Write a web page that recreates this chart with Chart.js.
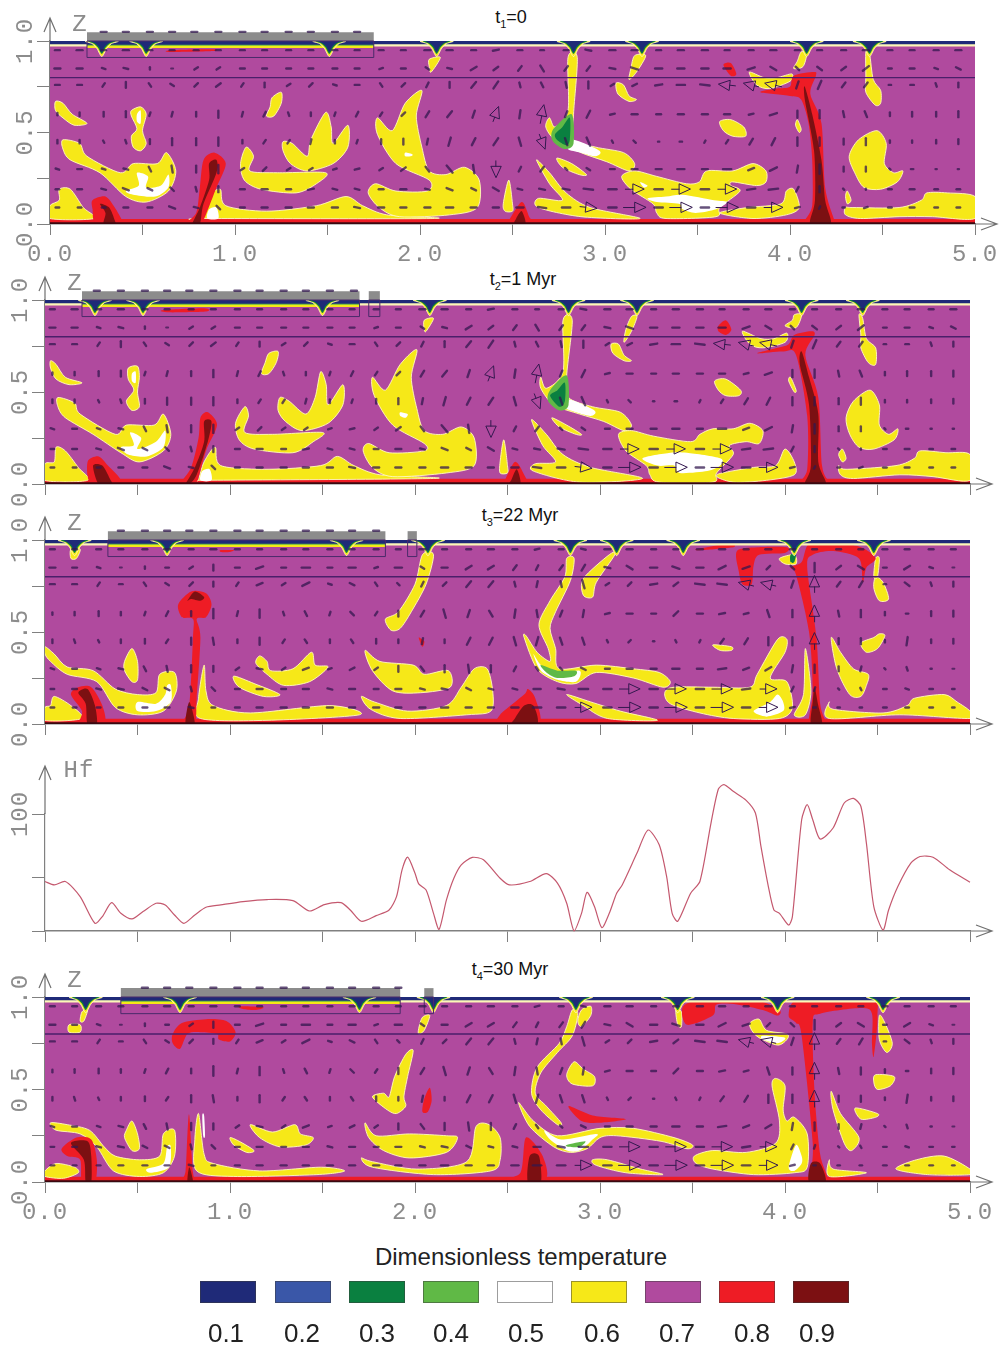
<!DOCTYPE html>
<html lang="en">
<head>
<meta charset="UTF-8">
<title>Dimensionless temperature</title>
<script src="https://cdn.jsdelivr.net/npm/chart.js@4/dist/chart.umd.min.js"></script>
<style>
    body { margin: 0; background: #fff; width: 999px; height: 1348px; position: relative; overflow: hidden; font-family: "Liberation Sans", Arial, sans-serif; }
    canvas { position: absolute; left: 0; top: 0; filter: blur(0.45px); }
    .title { position: absolute; font-size: 18px; color: #111; white-space: nowrap; transform: translateX(-50%); }
    .title sub { font-size: 11px; }
    #legendTitle { position: absolute; left: 521px; top: 1243px; transform: translateX(-50%); font-size: 24px; color: #222; white-space: nowrap; }
    .swatch { position: absolute; top: 1281px; width: 56px; height: 22px; box-sizing: border-box; border: 1px solid rgba(60,60,60,.5); }
    .swatchLabel { position: absolute; top: 1318px; font-size: 26px; color: #222; transform: translateX(-50%); }
</style>
</head>
<body>
<div class="title" style="left:511px;top:7px">t<sub>1</sub>=0</div>
<div class="title" style="left:523px;top:269px">t<sub>2</sub>=1 Myr</div>
<div class="title" style="left:520px;top:505px">t<sub>3</sub>=22 Myr</div>
<div class="title" style="left:510px;top:959px">t<sub>4</sub>=30 Myr</div>
<div id="legendTitle">Dimensionless temperature</div>

<script>
// colour scale
const legendValues = ['0.1', '0.2', '0.3', '0.4', '0.5', '0.6', '0.7', '0.8', '0.9'];
const legendColors = ['#1f2a78', '#3a57a8', '#0a8040', '#60b946', '#ffffff', '#f6e818', '#b04a9e', '#ee1c25', '#7c1012'];
const swatchLefts = [200, 275, 349, 423, 497, 571, 645, 719, 793];
const swatchLabelCentres = [226, 302, 377, 451, 526, 602, 677, 752, 817];
const [NAVY, BLUE, GREEN, LIGHTGREEN, WHITE, YELLOW, MAGENTA, RED, DARKRED] = legendColors;

// axes
const xTickValues = [0, 0.5, 1, 1.5, 2, 2.5, 3, 3.5, 4, 4.5, 5];
const xTickLabels = ['0.0', '', '1.0', '', '2.0', '', '3.0', '', '4.0', '', '5.0'];
const zTickValues = [0, 0.25, 0.5, 0.75, 1];
const zTickLabels = ['0.0', '', '0.5', '', '1.0'];
const hfTickValues = [0, 46, 100];
const hfTickLabels = ['', '', '100'];

// heat flow curve
const hfX = [0, .05, .11, .19, .27, .31, .36, .41, .47, .53, .6, .65, .7, .75, .81, .87, .95, 1.07, 1.2, 1.34, 1.43, 1.51, 1.6, 1.65, 1.71, 1.79, 1.86, 1.9, 1.93, 1.96, 2, 2.02, 2.06, 2.1, 2.13, 2.17, 2.21, 2.25, 2.31, 2.37, 2.46, 2.51, 2.62, 2.71, 2.77, 2.82, 2.86, 2.9, 2.93, 2.97, 3.01, 3.05, 3.09, 3.12, 3.2, 3.26, 3.32, 3.36, 3.39, 3.42, 3.49, 3.54, 3.6, 3.64, 3.67, 3.72, 3.79, 3.84, 3.87, 3.91, 3.94, 3.97, 4.02, 4.04, 4.09, 4.12, 4.15, 4.19, 4.26, 4.32, 4.37, 4.41, 4.44, 4.48, 4.53, 4.56, 4.61, 4.68, 4.73, 4.8, 4.89, 5];
const hfY = [42.3, 39.4, 42.3, 29.4, 6.6, 12.3, 24.3, 15.1, 10.3, 16.6, 23.7, 22.3, 13.7, 6.6, 13.7, 20.3, 22.3, 25.1, 26.9, 26, 17.1, 22.6, 24.3, 18, 8.3, 13.1, 18, 29.4, 52.3, 63.1, 49.4, 40.3, 35.1, 15.1, 1.4, 26.6, 45.1, 56.6, 62.9, 60.9, 45.1, 39.4, 42.3, 49.1, 40.9, 23.7, 0, 15.1, 33.1, 20.9, 2.9, 15.1, 32.3, 39.4, 66.6, 86.3, 73.7, 46.6, 15.1, 8.3, 32.3, 42.3, 92.3, 121.4, 125.1, 119.4, 111.7, 100.9, 72.3, 38, 18, 15.1, 5.1, 12.3, 95.1, 108, 95.1, 78.6, 88, 109.4, 113.4, 106.6, 75.1, 20.9, 0.9, 18, 38, 58, 63.7, 63.1, 52.3, 41.7];

// velocity arrows: u, v in hundredths of a model unit
const arrowCols = [.16, .41, .66, .91, 1.16, 1.41, 1.66, 1.91, 2.16, 2.41, 2.66, 2.91, 3.16, 3.41, 3.66, 3.91, 4.16, 4.41, 4.66, 4.91];
const midCols = [.04, .29, .54, .79, 1.04, 1.29, 1.54, 1.79, 2.04, 2.29, 2.54, 2.79, 3.04, 3.29, 3.54, 3.79, 4.04, 4.29, 4.54, 4.79];
const arrowRows = [.95, .85, .76, .6, .45, .3, .19, .09];
const earlyU = [
    [-5, -5, -4, -4, -4, -4, -4, -4, -5, 5, -3, 5, -5, -5, -4, -5, -4, -5, -4, -5],
    [-5, -4, 0, 3, -4, -4, -4, -4, 4, 4, 3, -3, -6, -6, -6, 5, 4, 5, -4, -4],
    [-4, 0, -3, 4, 0, -3, -4, 3, 0, 4, -2, 0, 4, 7, -9, -9, 3, -3, -3, 0],
    [0, 0, -1, 0, -2, 0, -2, 3, 4, 3, 2, -3, -5, -5, -5, -6, 0, 2, 0, 0],
    [0, 1, 0, 0, -2, 1, -1, 0, 2, 4, 3, 3, 2, -2, 2, 3, 0, 0, 0, 0],
    [4, 4, 1, 0, 3, 3, 4, 4, 5, 0, -3, 3, 5, 6, 7, 6, 0, 0, 2, 1],
    [4, 5, 3, 0, 5, 5, 4, 5, 5, 5, 5, 8, 10, 10, 10, 8, 0, 0, 4, 3],
    [3, 4, 5, 3, 5, 5, 5, 5, 6, 5, 7, 9, 12, 12, 12, 10, 1, -3, -4, -3]
];
const earlyV = [
    [0, 0, 0, 0, 0, 0, 0, 0, 0, 1, 0, -1, 0, 0, 0, 0, 0, 0, 0, 0],
    [0, 1, 0, 2, 0, 0, 0, 0, -1, 3, -5, -4, 2, 0, 0, -3, -3, 4, 0, 2],
    [0, -5, 2, 3, -4, -3, 0, 3, 5, 6, 4, 6, 2, 0, 1, 2, 7, -4, 0, 4],
    [-3, -5, -4, -6, -4, -3, -4, 3, 5, 8, 10, -6, 0, 0, 0, -2, 7, -5, -4, -5],
    [-3, -3, -6, -7, -3, 4, -3, 5, 7, 6, -8, -7, -2, 0, 3, 6, 7, -6, -2, -4],
    [0, -1, -6, -7, 3, 2, 1, 3, -6, -9, -4, -2, 0, 0, 0, 3, 8, -4, 0, 0],
    [0, -2, -3, -5, 0, 1, -1, 0, -2, -3, -1, -1, 0, 0, 0, 1, 5, -1, 0, 0],
    [0, 0, -2, -3, 0, 0, -1, 0, 0, 0, -1, -1, 0, 0, 0, 0, 2, -1, 0, 0]
];
const lateU = [
    [-4, -4, -5, -5, -4, -4, -4, -4, -4, -5, 4, 4, -5, -4, -5, 5, -4, -4, -4, -4],
    [-4, 0, -3, 0, 6, 7, 6, 6, 5, 5, -2, -3, -5, -6, -6, -3, 0, 5, 5, 0],
    [-4, -3, -3, 0, -5, -6, -4, -2, 3, 4, 1, -2, -3, 4, -8, -8, 0, -3, -4, 0],
    [0, 0, 2, 0, 0, 2, 3, 0, -2, 3, -1, -1, -5, 4, -5, -2, 0, 0, 2, 0],
    [1, 0, 2, 1, 0, 2, -2, 0, 0, 3, 2, 2, -2, 1, 3, 0, 0, 0, -1, 0],
    [4, 4, 1, 0, 5, 5, 4, 0, 0, 0, 2, 4, 5, 6, 7, 5, 0, -1, 1, 0],
    [4, 5, 4, 3, 5, 5, 5, 5, 5, 4, 6, 8, 11, 11, 11, 9, 1, 1, 3, 2],
    [3, 4, 4, 3, 5, 5, 5, 5, 6, 5, 7, 9, 12, 12, 12, 10, 2, -2, -3, -2]
];
const lateV = [
    [0, 0, 0, 0, 0, 0, 0, 0, 0, 0, 1, -1, 0, 0, 0, 0, 0, 0, 0, 0],
    [0, 0, 0, 5, 2, 0, 0, 0, 0, 3, -4, -5, 3, 2, -3, -3, 8, -3, 3, 0],
    [0, 0, 2, -4, -2, -3, 2, 2, 3, 5, 5, 7, -3, 3, 1, 2, 9, -5, 3, 4],
    [-3, -3, 4, -8, -7, -4, -3, 5, 7, -5, 6, -6, 0, 4, -1, 6, 9, -6, 0, -5],
    [-3, -3, 3, -6, -6, -3, 3, 3, 3, 6, 7, -6, -2, -2, 4, 7, 9, -5, -7, -4],
    [0, -1, -5, -5, -1, 2, 2, -5, -6, -6, -3, -2, 0, 0, 1, 3, 7, -4, -3, 0],
    [0, -1, -2, -3, 0, 0, 0, 0, -1, -1, 0, 0, 0, 0, 0, 0, 3, -2, -1, 0],
    [0, 0, 0, 0, 0, 0, 0, 0, 0, 0, 0, 0, 0, 0, 0, 0, 0, 0, 0, 0]
];
const midU = [
    [-4, -4, -4, -4, -4, -4, -4, -4, -5, 4, 4, -4, -5, -4, -5, -4, 4, -4, -4, -4],
    [-5, -3, 0, 3, -4, -4, -4, -3, 3, 5, -3, -3, -5, -6, -6, -6, 3, 4, -3, -3],
    [-4, -2, -2, 3, -2, -3, -3, -2, 2, 4, -1, -1, 3, -6, -8, -8, 2, -3, -2, -1],
    [0, 0, -1, 0, -1, 1, -1, 2, 3, 2, 1, -2, -4, -4, -5, -4, 0, 1, 0, 0],
    [0, 1, 0, 0, 0, 2, 0, 0, 1, 3, 2, 2, 1, -1, 1, 3, 0, 0, 0, 0],
    [3, 3, 2, 0, 3, 3, 3, 3, 3, 1, -2, 2, 4, 5, 5, 5, 1, 0, 1, 1],
    [3, 4, 4, 1, 4, 4, 4, 4, 4, 4, 4, 6, 7, 7, 7, 7, 2, 1, 3, 3],
    [3, 3, 4, 4, 4, 5, 5, 5, 5, 5, 6, 7, 7, 7, 7, 7, 4, -2, -3, -3]
];
const midV = [
    [0, 0, 0, 0, 0, 0, 0, 0, 0, 0, 0, 0, 0, 0, 0, 0, 0, 0, 0, 0],
    [0, 1, -2, 2, 0, 0, 0, -1, -2, 3, -4, -4, 1, 0, 0, -2, -3, 3, 0, 1],
    [0, -3, 3, 3, -3, -2, 1, 3, 4, 5, 4, 5, 2, -1, 1, 2, 6, -4, 0, 3],
    [-2, -4, -3, -4, -4, -3, -3, 3, 5, 6, 7, -5, -1, 0, 0, -1, 6, -5, -3, -4],
    [-3, -2, -4, -6, -3, 3, -3, 4, 5, 6, -7, -6, -2, 0, 2, 5, 7, -5, -2, -3],
    [-1, -1, -4, -6, 2, 2, 1, 2, -4, -7, -4, -2, 0, 0, 0, 2, 6, -4, -1, 0],
    [0, -1, -2, -4, 0, 0, -1, 0, -1, -2, -1, -1, 0, 0, 0, 1, 4, -1, 0, 0],
    [0, 0, 0, -1, 0, 0, 0, 0, 0, 0, 0, 0, 0, 0, 0, 0, 1, 0, 0, 0]
];

// continents: bar x range, small block x range (none at t1), box bottom is read at z = .91
const t1Bar = [.2, 1.75];
const t2Bar = [.2, 1.7];
const t3Bar = [.34, 1.84];
const t4Bar = [.41, 1.92];
const t2Block = [1.75, 1.81];
const t3Block = [1.96, 2.01];
const t4Block = [2.05, 2.1];
const t1BarDots = [.29, .41, .54, .66, .78, .91, 1.04, 1.16, 1.29, 1.41, 1.54, 1.66];
const t2BarDots = [.28, .41, .54, .66, .78, .91, 1.04, 1.16, 1.29, 1.41, 1.54, 1.67];
const t3BarDots = [.41, .54, .66, .78, .91, 1.04, 1.16, 1.29, 1.41, 1.54, 1.66, 1.79];
const t4BarDots = [.54, .66, .78, .91, 1.04, 1.16, 1.29, 1.41, 1.54, 1.66, 1.79, 1.91];

// cold downwellings below the surface
const t1Drips = [.28, .52, 1.51, 2.09, 2.83, 3.2, 4.09, 4.43];
const t2Drips = [.27, .53, 1.5, 2.08, 2.83, 3.2, 4.09, 4.42];
const t3Drips = [.16, .66, 1.63, 2.07, 2.84, 3.09, 3.45, 4.05, 4.48];
const t4Drips = [.22, .73, 1.7, 2.1, 2.87, 3.42, 3.96, 4.53];
const dripHalfWidths = [.085, .07, .055];
const dripBottoms = [.915, .93, .94];

// isotherm patches, each one x, z, x, z ...
const t1Yellow = [
    [.03, .67, .07, .66, .12, .6, .2, .55, .13, .54, .07, .58, .03, .62],
    [.44, .62, .49, .64, .52, .6, .5, .51, .52, .44, .49, .4, .45, .42, .44, .48, .47, .52, .44, .59],
    [.07, .46, .16, .44, .2, .37, .38, .28, .45, .33, .58, .33, .63, .39, .68, .29, .64, .18, .52, .12, .41, .15, .27, .28, .11, .35, .07, .41],
    [0, .1, .05, .13, .05, .19, .11, .19, .18, .09, .24, .03, 0, .03],
    [.83, .03, .86, .15, .92, .19, .95, .1, 1.17, .07, 1.44, .1, 1.6, .15, 1.69, .1, 1.82, .05, 2.07, .03, .83, .03],
    [1.77, .58, 1.85, .51, 1.92, .66, 2.01, .73, 1.98, .59, 2.01, .42, 2.05, .29, 2.14, .27, 2.24, .31, 2.32, .24, 2.31, .09, 2.16, .05, 1.89, .04, 1.78, .09, 1.72, .17, 1.76, .22, 1.87, .18, 2.04, .18, 2.05, .24, 1.87, .33, 1.77, .49],
    [1.06, .42, 1.1, .37, 1.08, .29, 1.23, .28, 1.49, .28, 1.44, .22, 1.33, .17, 1.14, .19, 1.05, .24, 1.03, .33],
    [1.26, .45, 1.31, .44, 1.39, .37, 1.41, .46, 1.49, .61, 1.52, .53, 1.53, .44, 1.61, .54, 1.61, .42, 1.53, .33, 1.39, .29, 1.3, .33, 1.26, .4],
    [1.2, .69, 1.25, .72, 1.25, .66, 1.21, .59, 1.17, .59, 1.19, .64],
    [2.05, .9, 2.11, .91, 2.06, .83, 2.05, .86],
    [2.8, .91, 2.85, .91, 2.83, .6, 2.83, .46, 2.95, .42, 3.1, .39, 3.16, .33, 3.13, .29, 3.01, .34, 2.87, .39, 2.73, .46, 2.68, .53, 2.7, .58, 2.73, .53, 2.8, .62],
    [3.16, .92, 3.22, .92, 3.17, .83, 3.13, .79, 3.14, .85],
    [3.06, .77, 3.1, .76, 3.13, .7, 3.17, .68, 3.13, .67, 3.07, .71],
    [2.74, .36, 2.82, .33, 2.9, .27, 2.86, .27, 2.77, .31],
    [2.63, .35, 2.7, .28, 2.79, .17, 2.92, .09, 3.19, .03, 2.87, .04, 2.64, .09, 2.64, .14, 2.77, .13, 2.7, .22],
    [3.09, .26, 3.16, .29, 3.28, .26, 3.44, .22, 3.51, .23, 3.55, .29, 3.69, .29, 3.8, .33, 3.87, .29, 3.87, .23, 3.82, .21, 3.69, .23, 3.68, .21, 3.73, .18, 3.62, .09, 3.6, .04, 3.33, .03, 3.28, .06, 3.26, .11, 3.14, .19],
    [3.62, .06, 3.77, .09, 3.95, .11, 3.98, .18, 4.02, .19, 4.05, .09, 3.98, .05, 3.8, .03],
    [3.62, .56, 3.68, .57, 3.75, .53, 3.76, .48, 3.69, .48, 3.64, .51],
    [4.04, .57, 4.06, .52, 4.05, .5, 4.03, .54],
    [3.78, .83, 3.86, .8, 3.93, .8, 4.01, .82, 4, .78, 3.89, .74, 3.82, .76],
    [4.06, .94, 4.09, .93, 4.07, .86, 4.02, .85, 4.04, .89],
    [4.41, .94, 4.43, .93, 4.45, .79, 4.49, .73, 4.49, .66, 4.46, .65, 4.41, .72, 4.41, .8],
    [4.37, .46, 4.47, .51, 4.52, .44, 4.51, .33, 4.56, .28, 4.61, .29, 4.58, .23, 4.49, .19, 4.4, .2, 4.35, .28, 4.32, .37],
    [4.31, .18, 4.33, .13, 4.31, .11, 4.3, .15],
    [4.3, .09, 4.34, .09, 4.59, .09, 4.71, .13, 4.74, .17, 4.85, .17, 5, .15, 5, .03, 4.77, .04, 4.59, .04, 4.38, .03, 4.3, .05],
    [2.45, .11, 2.48, .24, 2.5, .11, 2.5, .07, 2.46, .07]
];
const t1White = [
    [.47, .28, .53, .26, .52, .2, .6, .21, .64, .27, .64, .2, .57, .15, .45, .16, .41, .18, .48, .21],
    [.86, .08, .9, .09, .91, .03, .85, .03],
    [.47, .6, .49, .62, .49, .55, .47, .56],
    [1.92, .39, 1.96, .38, 1.95, .37, 1.92, .37],
    [2.83, .46, 2.97, .4, 2.95, .37, 2.87, .39, 2.8, .41],
    [3.23, .14, 3.33, .15, 3.42, .16, 3.59, .13, 3.66, .12, 3.6, .08, 3.49, .06, 3.42, .08, 3.4, .11, 3.28, .12],
    [3.19, .23, 3.23, .21, 3.21, .2]
];
const t1LightGreen = [[2.73, .53, 2.82, .6, 2.83, .44, 2.78, .41, 2.72, .45, 2.71, .49]];
const t1Green = [[2.77, .53, 2.81, .58, 2.81, .46, 2.79, .43, 2.74, .46, 2.73, .49]];
const t1Red = [
    [.23, .13, .3, .15, .35, .09, .39, .02, .4, 0, .25, 0, .23, .08],
    [.83, .35, .89, .39, .95, .33, .9, .2, .83, .02, .81, 0, .73, 0, .79, .06, .81, .2],
    [.65, .95, .88, .955, .88, .945, .65, .94],
    [3.64, .87, 3.68, .88, 3.71, .82, 3.68, .81],
    [4.02, .81, 4.13, .83, 4.14, .81, 4.11, .71, 4.17, .55, 4.19, .2, 4.24, .02, 4.25, 0, 4.08, 0, 4.12, .1, 4.12, .35, 4.1, .55, 4.06, .68, 4, .7, 3.84, .72, 3.93, .74, 4, .75],
    [2.48, .02, 2.55, .12, 2.59, .04, 2.61, 0, 2.45, 0]
];
const t1Dark = [
    [.27, .11, .32, .09, .35, .02, .35, 0, .29, 0, .3, .06],
    [.86, .33, .9, .35, .9, .28, .83, .11, .81, 0, .77, 0, .81, .09, .86, .24],
    [4.08, .75, 4.12, .6, 4.17, .35, 4.19, .13, 4.22, 0, 4.11, 0, 4.135, .13, 4.13, .4, 4.08, .68],
    [2.52, .03, 2.55, .07, 2.57, 0, 2.51, 0]
];

const t2Yellow = [
    [.03, .67, .06, .65, .11, .58, .2, .55, .13, .54, .06, .57, .03, .63],
    [.45, .63, .5, .64, .51, .58, .5, .5, .51, .42, .47, .4, .44, .45, .48, .51, .45, .57],
    [.07, .47, .16, .44, .19, .38, .38, .27, .44, .32, .59, .32, .64, .38, .68, .27, .64, .18, .51, .12, .41, .17, .26, .27, .11, .36, .07, .42],
    [0, .11, .05, .12, .06, .2, .11, .18, .18, .09, .23, .02, 0, .02],
    [.83, .02, .86, .12, .92, .2, .95, .1, 1.2, .08, 1.49, .1, 1.58, .15, 1.67, .1, 1.81, .05, 2.1, .03, .83, .02],
    [1.77, .58, 1.84, .51, 1.92, .65, 2.01, .73, 1.98, .58, 2.01, .41, 2.05, .29, 2.15, .27, 2.25, .31, 2.32, .25, 2.32, .1, 2.17, .06, 1.88, .04, 1.77, .09, 1.72, .18, 1.75, .22, 1.86, .17, 2.05, .18, 2.05, .22, 1.88, .32, 1.78, .48],
    [1.08, .42, 1.1, .37, 1.08, .28, 1.23, .27, 1.5, .28, 1.45, .23, 1.34, .17, 1.13, .19, 1.05, .24, 1.03, .33],
    [1.27, .47, 1.32, .45, 1.41, .38, 1.46, .47, 1.49, .61, 1.52, .54, 1.53, .43, 1.61, .54, 1.61, .43, 1.53, .33, 1.39, .29, 1.3, .34, 1.26, .4],
    [1.21, .71, 1.26, .72, 1.25, .66, 1.21, .6, 1.17, .6, 1.19, .66],
    [2.05, .89, 2.1, .9, 2.06, .83, 2.05, .84],
    [2.8, .89, 2.85, .89, 2.82, .59, 2.83, .47, 2.96, .42, 3.11, .39, 3.17, .32, 3.13, .29, 3.02, .34, 2.89, .38, 2.75, .43, 2.68, .52, 2.68, .58, 2.71, .52, 2.8, .61],
    [3.17, .91, 3.2, .91, 3.17, .83, 3.13, .77, 3.14, .84],
    [3.06, .76, 3.1, .76, 3.13, .7, 3.17, .67, 3.13, .67, 3.07, .71],
    [2.74, .36, 2.82, .32, 2.9, .27, 2.87, .27, 2.78, .31],
    [2.63, .35, 2.71, .27, 2.8, .16, 2.95, .09, 3.23, .03, 2.89, .01, 2.64, .07, 2.65, .11, 2.76, .12, 2.69, .21],
    [3.1, .27, 3.17, .29, 3.29, .26, 3.49, .23, 3.54, .27, 3.61, .3, 3.72, .3, 3.81, .33, 3.88, .29, 3.86, .22, 3.79, .23, 3.7, .21, 3.72, .16, 3.63, .06, 3.61, .01, 3.32, .01, 3.27, .05, 3.25, .1, 3.14, .18],
    [3.63, .05, 3.83, .09, 3.95, .1, 4, .19, 4.05, .12, 4.05, .05, 3.9, .02, 3.72, .01],
    [3.62, .56, 3.68, .57, 3.76, .51, 3.75, .48, 3.68, .48, 3.64, .51],
    [4.03, .58, 4.06, .51, 4.05, .5, 4.02, .56],
    [3.77, .83, 3.87, .79, 3.94, .79, 4.01, .82, 4, .77, 3.88, .74, 3.81, .76],
    [4.05, .92, 4.09, .92, 4.06, .85, 4, .86, 4.04, .89],
    [4.4, .92, 4.42, .9, 4.44, .79, 4.49, .74, 4.49, .65, 4.45, .66, 4.41, .74, 4.41, .81],
    [4.37, .45, 4.46, .51, 4.51, .43, 4.51, .32, 4.56, .27, 4.61, .3, 4.59, .24, 4.48, .19, 4.4, .2, 4.35, .27, 4.33, .36],
    [4.31, .19, 4.33, .14, 4.31, .12, 4.29, .16],
    [4.29, .1, 4.33, .08, 4.6, .1, 4.7, .14, 4.73, .18, 4.87, .17, 5, .16, 5, .02, 4.8, .04, 4.62, .05, 4.37, .03, 4.3, .05],
    [2.46, .12, 2.48, .24, 2.5, .1, 2.5, .06, 2.46, .06]
];
const t2White = [
    [.46, .28, .52, .25, .5, .19, .6, .23, .65, .29, .64, .2, .55, .15, .45, .16, .41, .2, .48, .21],
    [.85, .07, .89, .08, .9, .02, .84, .02],
    [.47, .6, .49, .61, .49, .55, .47, .56],
    [1.92, .39, 1.96, .38, 1.95, .36, 1.92, .37],
    [2.83, .46, 2.97, .4, 2.95, .37, 2.87, .39, 2.8, .42],
    [3.23, .14, 3.38, .17, 3.47, .17, 3.65, .14, 3.65, .1, 3.58, .07, 3.43, .06, 3.4, .1, 3.31, .1]
];
const t2LightGreen = [[2.73, .51, 2.82, .59, 2.83, .43, 2.78, .4, 2.72, .45]];
const t2Green = [[2.77, .51, 2.81, .55, 2.81, .45, 2.78, .42, 2.73, .48]];
const t2Red = [
    [.23, .12, .29, .15, .34, .1, .41, .01, .25, 0],
    [.84, .36, .88, .39, .93, .32, .87, .18, .82, .01, .78, 0, .73, 0, .79, .09, .83, .25],
    [.64, .945, .86, .955, .87, .937, .66, .933],
    [3.64, .86, 3.68, .89, 3.71, .84, 3.68, .81, 3.64, .83],
    [4.05, .81, 4.14, .83, 4.16, .81, 4.11, .7, 4.18, .47, 4.2, .1, 4.24, .01, 4.25, 0, 4.08, 0, 4.12, .08, 4.12, .37, 4.06, .7, 3.99, .72, 3.85, .71, 3.96, .74, 4.02, .76],
    [2.48, .01, 2.54, .12, 2.59, .05, 2.6, 0, 2.46, 0]
];
const t2Dark = [
    [.26, .1, .31, .1, .35, .03, .36, 0, .29, 0],
    [.86, .34, .9, .34, .88, .23, .82, .05, .78, 0, .76, 0, .81, .09, .86, .23],
    [4.09, .72, 4.13, .58, 4.18, .38, 4.18, .12, 4.22, 0, 4.11, 0, 4.14, .1, 4.13, .43, 4.08, .65],
    [2.52, .02, 2.55, .08, 2.57, 0, 2.51, 0]
];

const t3Yellow = [
    [0, .42, .05, .38, .12, .31, .26, .29, .38, .19, .5, .16, .6, .17, .62, .27, .7, .28, .71, .18, .64, .07, .5, .05, .38, .09, .28, .23, .12, .27, .03, .34, 0, .38],
    [.43, .34, .47, .41, .5, .34, .5, .24, .47, .23, .43, .29],
    [.03, .1, .05, .15, .14, .1, .2, .03, 0, .02, 0, .09],
    [.86, .32, .87, .18, .91, .1, 1.11, .06, 1.54, .1, 1.7, .05, 1.2, .02, .84, .03, .83, .14],
    [1.02, .26, 1.13, .22, 1.27, .16, 1.18, .15, 1.05, .2],
    [1.16, .37, 1.2, .34, 1.22, .29, 1.34, .3, 1.44, .39, 1.46, .32, 1.53, .31, 1.43, .23, 1.29, .21, 1.2, .27, 1.14, .33],
    [1.73, .4, 1.81, .34, 1.99, .32, 2.05, .27, 2.18, .29, 2.19, .2, 2.03, .17, 1.88, .18, 1.77, .29],
    [1.71, .15, 1.78, .12, 1.96, .07, 2.17, .1, 2.25, .2, 2.32, .3, 2.39, .3, 2.42, .18, 2.41, .07, 2.28, .05, 1.92, .03, 1.76, .08],
    [2.04, .92, 2.1, .92, 2.06, .76, 1.98, .61, 1.92, .52, 1.87, .51, 1.84, .57, 1.91, .61, 2, .76],
    [.14, .95, .19, .95, .17, .9, .14, .9],
    [2.82, .9, 2.86, .9, 2.84, .78, 2.76, .61, 2.73, .52, 2.76, .41, 2.78, .3, 2.98, .32, 3.18, .3, 3.32, .28, 3.38, .23, 3.34, .2, 3.18, .25, 2.98, .28, 2.87, .22, 2.77, .23, 2.66, .3, 2.59, .47, 2.6, .48, 2.66, .39, 2.73, .34, 2.72, .41, 2.67, .54, 2.73, .67, 2.81, .8],
    [3.05, .92, 3.08, .92, 2.98, .77, 2.96, .69, 2.91, .7, 2.91, .79],
    [2.82, .16, 2.95, .12, 3.11, .07, 3.31, .02, 3.04, .03, 2.91, .1],
    [3.35, .17, 3.4, .2, 3.61, .2, 3.81, .2, 3.85, .27, 3.96, .46, 4.01, .46, 4, .39, 3.92, .25, 4.01, .23, 4.04, .09, 3.97, .03, 3.72, .03, 3.54, .06, 3.38, .11],
    [3.61, .43, 3.71, .42, 3.71, .4, 3.65, .4],
    [4.11, .41, 4.14, .18, 4.11, .05, 4.05, .05, 4.1, .16],
    [4.25, .47, 4.3, .39, 4.37, .3, 4.45, .27, 4.44, .21, 4.41, .15, 4.35, .16, 4.28, .3],
    [4.51, .49, 4.54, .48, 4.5, .41, 4.44, .39, 4.41, .44, 4.48, .47],
    [4.49, .8, 4.53, .77, 4.56, .68, 4.51, .67, 4.48, .74],
    [4.24, .12, 4.26, .08, 4.53, .06, 4.66, .1, 4.7, .14, 4.86, .16, 4.93, .12, 5, .07, 5, .03, 4.62, .05, 4.24, .03],
    [4.49, .9, 4.51, .9, 4.5, .8, 4.48, .8],
    [3.97, .9, 4.05, .92, 4.06, .87, 4, .87]
];
const t3White = [
    [.5, .12, .6, .11, .65, .16, .66, .21, .68, .21, .68, .12, .6, .07, .5, .07],
    [2.64, .38, 2.68, .32, 2.75, .27, 2.89, .29, 2.87, .23, 2.77, .24, 2.68, .29],
    [3.83, .07, 3.92, .12, 3.96, .16, 3.99, .12, 3.99, .07, 3.9, .04]
];
const t3LightGreen = [[2.68, .32, 2.77, .29, 2.87, .29, 2.86, .26, 2.77, .25, 2.71, .28]];
const t3Green = [[4.03, .92, 4.06, .93, 4.05, .88, 4.03, .88]];
const t3Red = [
    [.14, .16, .18, .2, .25, .2, .31, .1, .32, 0, .19, 0, .2, .07],
    [.72, .65, .79, .72, .87, .71, .9, .65, .87, .58, .82, .57, .84, .47, .82, .14, .81, 0, .74, 0, .78, .1, .8, .47, .8, .57, .74, .58],
    [.95, .945, 1.02, .945, 1, .935, .95, .935],
    [2.02, .47, 2.05, .45, 2.04, .42],
    [2.46, .05, 2.59, .16, 2.61, .19, 2.65, .14, 2.67, 0, 2.46, 0],
    [3.52, .95, 3.7, .98, 3.72, .96, 3.56, .945],
    [3.74, .94, 3.85, .96, 4.01, .96, 4, .93, 3.86, .92, 3.83, .86, 3.82, .76, 3.77, .76, 3.75, .83],
    [4.03, .85, 4.09, .88, 4.13, .98, 4.26, .99, 4.41, .96, 4.49, .9, 4.44, .85, 4.42, .77, 4.4, .9, 4.26, .94, 4.15, .92, 4.12, .85, 4.17, .47, 4.19, .11, 4.22, 0, 4.13, 0, 4.15, .18, 4.13, .5, 4.06, .81]
];
const t3Dark = [
    [.18, .17, .23, .19, .27, .1, .28, 0, .23, 0, .22, .11],
    [.77, .67, .81, .72, .86, .69, .84, .67, .79, .68],
    [.78, .12, .81, 0, .76, 0],
    [2.54, .03, 2.59, .1, 2.64, .1, 2.66, 0, 2.53, 0],
    [4.16, .2, 4.18, .1, 4.2, 0, 4.14, 0, 4.15, .12]
];

const t4Yellow = [
    [.03, .32, .12, .31, .24, .28, .32, .19, .38, .14, .51, .12, .62, .14, .64, .26, .7, .28, .7, .14, .64, .05, .51, .03, .37, .06, .28, .19, .19, .26, .06, .28],
    [.44, .28, .47, .33, .5, .26, .51, .18, .47, .17, .43, .24],
    [0, .06, .06, .1, .16, .08, .18, .05, .1, .02, 0, .03],
    [.83, .37, .86, .15, .91, .1, 1.16, .06, 1.49, .08, 1.62, .06, 1.47, .04, 1.02, .03, .82, .06, .81, .23],
    [1, .24, 1.05, .22, 1.13, .17, 1.09, .16, 1.02, .2],
    [1.11, .31, 1.23, .27, 1.35, .31, 1.38, .26, 1.45, .24, 1.41, .2, 1.27, .19, 1.16, .24],
    [1.73, .32, 1.79, .25, 1.97, .26, 2.17, .25, 2.23, .24, 2.17, .16, 1.97, .13, 1.83, .17, 1.75, .24],
    [1.71, .13, 1.77, .11, 2.01, .07, 2.28, .11, 2.33, .3, 2.4, .31, 2.46, .24, 2.46, .12, 2.41, .06, 2.1, .04, 1.77, .08],
    [1.95, .69, 1.99, .71, 1.96, .57, 1.94, .46, 1.95, .41, 1.9, .37, 1.85, .39, 1.77, .46, 1.83, .48, 1.86, .46, 1.89, .57],
    [2.04, .89, 2.08, .9, 2.05, .82, 2.02, .8, 2.02, .83],
    [.13, .85, .19, .85, .19, .81, .13, .81],
    [.2, .92, .23, .93, .21, .87, .19, .87],
    [2.85, .93, 2.88, .91, 2.85, .79, 2.77, .7, 2.68, .59, 2.65, .48, 2.71, .41, 2.79, .32, 2.77, .31, 2.68, .39, 2.63, .48, 2.66, .62, 2.78, .75, 2.82, .84],
    [2.9, .93, 2.95, .95, 2.95, .9, 2.9, .84, 2.88, .87],
    [2.86, .65, 2.91, .61, 2.97, .57, 2.96, .52, 2.85, .53, 2.82, .58],
    [2.56, .43, 2.64, .33, 2.77, .25, 3, .29, 3.18, .29, 3.4, .24, 3.5, .2, 3.47, .18, 3.33, .22, 3.09, .25, 3, .24, 2.93, .18, 2.84, .16, 2.75, .19, 2.62, .3],
    [2.96, .12, 3.04, .12, 3.22, .07, 3.34, .04, 3.14, .05, 2.98, .09],
    [3.51, .14, 3.61, .17, 3.79, .16, 3.95, .21, 3.97, .33, 3.93, .52, 3.95, .56, 4, .52, 3.99, .39, 4.01, .33, 4.05, .35, 4.12, .26, 4.12, .08, 4.05, .05, 3.83, .04, 3.61, .07, 3.52, .1],
    [3.81, .86, 3.86, .88, 3.9, .82, 4.01, .8, 4.01, .77, 3.96, .74, 3.86, .78, 3.82, .82],
    [3.41, .93, 3.44, .92, 3.44, .84, 3.42, .85],
    [4.25, .49, 4.3, .37, 4.4, .24, 4.36, .17, 4.32, .21, 4.26, .39],
    [4.38, .4, 4.5, .37, 4.49, .35, 4.41, .34],
    [4.49, .58, 4.59, .57, 4.57, .52, 4.5, .5, 4.48, .54],
    [4.51, .9, 4.54, .86, 4.58, .75, 4.55, .7, 4.51, .77],
    [4.6, .07, 4.71, .12, 4.86, .14, 5, .07, 5, .04, 4.77, .04],
    [4.24, .12, 4.26, .07, 4.44, .05, 4.24, .03]
];
const t4White = [
    [.55, .07, .64, .1, .66, .19, .68, .19, .67, .08, .57, .05],
    [2.7, .28, 2.79, .23, 2.98, .26, 2.96, .23, 2.89, .17, 2.82, .17, 2.73, .23],
    [4.02, .08, 4.06, .2, 4.09, .14, 4.09, .1, 4.05, .06],
    [3.88, .79, 4, .78, 3.96, .75, 3.88, .77],
    [.85, .36, .86, .36, .865, .25, .855, .25]
];
const t4LightGreen = [[2.82, .2, 2.92, .22, 2.89, .19, 2.83, .19]];
const t4Green = [];
const t4Red = [
    [.09, .18, .17, .24, .25, .23, .28, .12, .27, 0, .2, 0, .19, .12, .12, .14],
    [.78, .36, .8, .05, .82, 0, .74, 0, .76, .06, .77, .26],
    [.69, .8, .74, .86, .87, .88, .98, .87, 1.03, .81, 1, .76, .94, .77, .93, .8, .84, .81, .77, .8, .73, .72, .69, .75],
    [1.05, .95, 1.18, .945, 1.14, .93, 1.07, .935],
    [2.08, .51, 2.09, .44, 2.07, .38, 2.04, .38, 2.05, .45],
    [2.6, .24, 2.69, .14, 2.7, .01, 2.46, .01, 2.57, .05],
    [2.83, .41, 2.96, .36, 3.14, .34, 3, .32, 2.9, .33],
    [3.45, .95, 3.58, .99, 3.85, .98, 3.97, .93, 3.96, .9, 3.88, .93, 3.74, .96, 3.63, .96, 3.61, .9, 3.47, .85],
    [4.02, .9, 4.08, .99, 4.46, .99, 4.5, .9, 4.48, .68, 4.47, .75, 4.47, .91, 4.41, .94, 4.19, .91, 4.15, .86, 4.16, .48, 4.19, .15, 4.23, .01, 4.14, .01, 4.15, .21, 4.09, .79, 4.06, .86]
];
const t4Dark = [
    [.14, .21, .23, .22, .25, .14, .25, 0, .22, 0, .21, .12],
    [.78, .08, .8, 0, .77, 0],
    [2.62, .14, 2.67, .14, 2.68, 0, 2.61, 0],
    [4.14, .1, 4.19, .1, 4.22, 0, 4.13, 0]
];

// panel frames in page pixels
const t1Frame = { left: 50, right: 975, top: 41, bottom: 224 };
const t2Frame = { left: 45, right: 970, top: 300, bottom: 484 };
const t3Frame = { left: 45, right: 970, top: 540, bottom: 724 };
const hfFrame = { left: 45, right: 970, top: 814, bottom: 931 };
const t4Frame = { left: 45, right: 970, top: 997, bottom: 1182 };

const CANVAS_W = 1060, CANVAS_H = 1348;
const AXIS_GREY = '#808080', LABEL_GREY = '#8c8c8c', ARROW_INK = '#33184f';
const AXIS_FONT = '"Liberation Mono", "DejaVu Sans Mono", monospace';

function points(flat) {
    const out = [];
    for (let i = 0; i < flat.length; i += 2) out.push({ x: flat[i], y: flat[i + 1] });
    return out;
}

function patch(flat, fill, extra) {
    return Object.assign({ data: points(flat), pointRadius: 0, showLine: false, patchFill: fill, patchSmooth: true }, extra);
}

function rect(x0, z0, x1, z1, fill, extra) {
    return patch([x0, z0, x1, z0, x1, z1, x0, z1], fill, Object.assign({ patchSmooth: false }, extra));
}

function drip(c, w, d, fill, extra) {
    return patch([c - w, 1, c - w * .6, .985, c - w * .3, (1 + d) / 2, c, d, c + w * .3, (1 + d) / 2, c + w * .6, .985, c + w, 1], fill, extra);
}

function quiverSet(cols, us, vs) {
    const pts = [], u = [], v = [];
    arrowRows.forEach((z, r) => cols.forEach((x, c) => {
        pts.push({ x: x, y: z });
        u.push(us[r][c]);
        v.push(vs[r][c]);
    }));
    return { data: pts, pointRadius: 0, showLine: false, quiverU: u, quiverV: v };
}

// builds the whole dataset list of one temperature panel, painted in this order
function panelDatasets(p) {
    const rim = 'rgba(255,250,190,.9)';
    const list = [rect(0, 0, 5, 1, MAGENTA)];
    list.push(rect(0, 0, 5, .028, RED));
    p.yellow.forEach(s => list.push(patch(s, YELLOW, { patchRim: rim })));
    p.white.forEach(s => list.push(patch(s, WHITE)));
    p.lightGreen.forEach(s => list.push(patch(s, LIGHTGREEN)));
    p.green.forEach(s => list.push(patch(s, GREEN)));
    p.red.forEach(s => list.push(patch(s, RED)));
    p.dark.forEach(s => list.push(patch(s, DARKRED)));
    list.push(rect(0, 0, 5, .009, '#3a0810'));
    list.push(rect(0, .97, 5, .985, '#fdf6b8'));
    list.push(rect(0, .982, 5, 1, NAVY));
    list.push(rect(p.bar[0], .962, p.bar[1], .98, YELLOW));
    list.push(rect(p.bar[0], .974, p.bar[1], .984, LIGHTGREEN));
    list.push(rect(p.bar[0], .98, p.bar[1], 1, NAVY));
    p.drips.forEach(c => {
        list.push(drip(c, dripHalfWidths[0], dripBottoms[0], YELLOW, { patchRim: rim }));
        list.push(drip(c, dripHalfWidths[1], dripBottoms[1], GREEN));
        list.push(drip(c, dripHalfWidths[2], dripBottoms[2], NAVY));
    });
    // depth line of the upper layer
    list.push({ data: points([0, .8, 5, .8]), showLine: true, borderColor: '#4a1f6a', borderWidth: 1.4, pointRadius: 0 });
    // continent bars and their outlines
    [p.bar, p.block].forEach(b => {
        if (!b) return;
        list.push(rect(b[0], 1, b[1], 1.048, '#8c8c8c'));
        list.push(rect(b[0], .91, b[1], 1, 'transparent', { patchRim: '#4a2a6a' }));
    });
    list.push({ data: p.barDots.map(x => ({ x: x, y: 1.05 })), pointRadius: 0, showLine: false, quiverU: p.barDots.map(() => 5), quiverV: p.barDots.map(() => 0) });
    // velocity field
    list.push(quiverSet(arrowCols, p.u, p.v));
    list.push(quiverSet(midCols, midU, midV));
    return list.map((d, i) => Object.assign(d, { order: list.length - i }));
}

const patchPlugin = {
    id: 'patches',
    beforeDraw(chart) {
        chart.ctx.letterSpacing = '1px';
    },
    beforeDatasetDraw(chart, args) {
        const ds = chart.data.datasets[args.index];
        if (!ds.patchFill) return;
        const pts = args.meta.data;
        const ctx = chart.ctx;
        const n = pts.length;
        const area = chart.chartArea;
        ctx.save();
        if (ds.patchSmooth) {
            // keep the rounded outlines inside the plot
            ctx.beginPath();
            ctx.rect(area.left, area.top, area.right - area.left, area.bottom - area.top);
            ctx.clip();
        }
        ctx.beginPath();
        if (ds.patchSmooth && n > 2) {
            ctx.moveTo(pts[0].x, pts[0].y);
            const k = 1 / 7;
            for (let i = 0; i < n; i++) {
                const p0 = pts[(i - 1 + n) % n], p1 = pts[i], p2 = pts[(i + 1) % n], p3 = pts[(i + 2) % n];
                ctx.bezierCurveTo(p1.x + (p2.x - p0.x) * k, p1.y + (p2.y - p0.y) * k, p2.x - (p3.x - p1.x) * k, p2.y - (p3.y - p1.y) * k, p2.x, p2.y);
            }
        } else {
            pts.forEach((a, i) => i ? ctx.lineTo(a.x, a.y) : ctx.moveTo(a.x, a.y));
        }
        ctx.closePath();
        ctx.fillStyle = ds.patchFill;
        ctx.fill();
        if (ds.patchRim) {
            ctx.strokeStyle = ds.patchRim;
            ctx.lineWidth = 1;
            ctx.stroke();
        }
        ctx.restore();
    },
    afterDatasetDraw(chart, args) {
        const ds = chart.data.datasets[args.index];
        if (!ds.quiverU) return;
        const xs = chart.scales.x, ys = chart.scales.y, ctx = chart.ctx;
        ctx.save();
        ctx.strokeStyle = ARROW_INK;
        ctx.lineCap = 'round';
        ds.data.forEach((pt, i) => {
            const du = ds.quiverU[i] / 100, dv = ds.quiverV[i] / 100;
            const x0 = xs.getPixelForValue(pt.x - du / 2), y0 = ys.getPixelForValue(pt.y - dv / 2);
            const x1 = xs.getPixelForValue(pt.x + du / 2), y1 = ys.getPixelForValue(pt.y + dv / 2);
            const len = Math.hypot(x1 - x0, y1 - y0);
            const cx = (x0 + x1) / 2, cy = (y0 + y1) / 2;
            if (len < 1) {
                ctx.lineWidth = 2;
                ctx.globalAlpha = .7;
                ctx.beginPath();
                ctx.moveTo(cx - 1, cy);
                ctx.lineTo(cx + 1, cy);
                ctx.stroke();
                return;
            }
            if (len < 15) {
                // short arrows read as small specks
                const f = .32;
                ctx.lineWidth = 2.4;
                ctx.globalAlpha = .75;
                ctx.beginPath();
                ctx.moveTo(cx - (x1 - x0) * f, cy - (y1 - y0) * f);
                ctx.lineTo(cx + (x1 - x0) * f, cy + (y1 - y0) * f);
                ctx.stroke();
            } else {
                // long arrows get a thin shaft and an open head
                const ux = (x1 - x0) / len, uy = (y1 - y0) / len;
                ctx.lineWidth = 1;
                ctx.globalAlpha = 1;
                ctx.beginPath();
                ctx.moveTo(x0, y0);
                ctx.lineTo(x1 - ux * 11, y1 - uy * 11);
                ctx.moveTo(x1, y1);
                ctx.lineTo(x1 - ux * 11 - uy * 5, y1 - uy * 11 + ux * 5);
                ctx.lineTo(x1 - ux * 11 + uy * 5, y1 - uy * 11 - ux * 5);
                ctx.closePath();
                ctx.stroke();
            }
        });
        ctx.restore();
    },
    afterDraw(chart) {
        // axis arrows and axis letter
        const xs = chart.scales.x, ys = chart.scales.y, ctx = chart.ctx;
        const o = chart.options.plugins.patches;
        const left = xs.left, bottom = ys.bottom, top = ys.top, right = xs.right;
        ctx.save();
        ctx.strokeStyle = '#707070';
        ctx.lineWidth = 1.2;
        ctx.beginPath();
        ctx.moveTo(left, top);
        ctx.lineTo(left, top - o.arrowUp);
        ctx.moveTo(left - 6, top - o.arrowUp + 14);
        ctx.lineTo(left, top - o.arrowUp);
        ctx.lineTo(left + 6, top - o.arrowUp + 14);
        ctx.moveTo(right, bottom);
        ctx.lineTo(right + 22, bottom);
        ctx.moveTo(right + 6, bottom - 6);
        ctx.lineTo(right + 22, bottom);
        ctx.lineTo(right + 6, bottom + 6);
        ctx.stroke();
        ctx.fillStyle = LABEL_GREY;
        ctx.font = '24px ' + AXIS_FONT;
        ctx.textBaseline = 'middle';
        ctx.fillText(o.name, xs.getPixelForValue(o.nameX), ys.getPixelForValue(o.nameY));
        ctx.restore();
    }
};

function axesFor(frame, yMax, yTicks, yLabels, xLabelled) {
    return {
        x: {
            type: 'linear', min: 0, max: 5,
            afterFit: s => { s.height = 40; },
            afterBuildTicks: s => { s.ticks = xTickValues.map(v => ({ value: v })); },
            border: { color: AXIS_GREY, width: 1.5 },
            grid: { drawOnChartArea: false, tickLength: 11, tickColor: AXIS_GREY, color: AXIS_GREY },
            ticks: {
                autoSkip: false, minRotation: 0, maxRotation: 0, padding: 5, color: LABEL_GREY,
                font: { family: AXIS_FONT, size: 24 },
                callback: (v, i) => (xLabelled ? xTickLabels[i] : '')
            }
        },
        y: {
            type: 'linear', min: 0, max: yMax,
            afterFit: s => { s.width = frame.left; },
            afterBuildTicks: s => { s.ticks = yTicks.map(v => ({ value: v })); },
            border: { color: AXIS_GREY, width: 1.2 },
            grid: { drawOnChartArea: false, tickLength: 13, tickColor: AXIS_GREY, color: AXIS_GREY },
            ticks: {
                autoSkip: false, minRotation: 90, maxRotation: 90, crossAlign: 'center', padding: -10, color: LABEL_GREY,
                font: { family: AXIS_FONT, size: 24 },
                callback: (v, i) => yLabels[i]
            }
        }
    };
}

function addChart(frame, datasets, scales, name, nameX, nameY, arrowUp) {
    const canvas = document.createElement('canvas');
    canvas.width = CANVAS_W;
    canvas.height = CANVAS_H;
    document.body.appendChild(canvas);
    return new Chart(canvas.getContext('2d'), {
        type: 'scatter',
        data: { datasets: datasets },
        options: {
            responsive: false,
            animation: false,
            events: [],
            layout: { padding: { top: frame.top, right: CANVAS_W - frame.right, bottom: CANVAS_H - frame.bottom - 40, left: 0 } },
            scales: scales,
            plugins: {
                legend: { display: false },
                tooltip: { enabled: false },
                patches: { name: name, nameX: nameX, nameY: nameY, arrowUp: arrowUp }
            }
        },
        plugins: [patchPlugin]
    });
}

function addTemperaturePanel(frame, p, xLabelled) {
    addChart(frame, panelDatasets(p), axesFor(frame, 1, zTickValues, zTickLabels, xLabelled), 'Z', .12, 1.09, 23);
}

addTemperaturePanel(t1Frame, { yellow: t1Yellow, white: t1White, lightGreen: t1LightGreen, green: t1Green, red: t1Red, dark: t1Dark, drips: t1Drips, bar: t1Bar, block: null, barDots: t1BarDots, u: earlyU, v: earlyV }, true);
addTemperaturePanel(t2Frame, { yellow: t2Yellow, white: t2White, lightGreen: t2LightGreen, green: t2Green, red: t2Red, dark: t2Dark, drips: t2Drips, bar: t2Bar, block: t2Block, barDots: t2BarDots, u: earlyU, v: earlyV }, false);
addTemperaturePanel(t3Frame, { yellow: t3Yellow, white: t3White, lightGreen: t3LightGreen, green: t3Green, red: t3Red, dark: t3Dark, drips: t3Drips, bar: t3Bar, block: t3Block, barDots: t3BarDots, u: lateU, v: lateV }, false);
addTemperaturePanel(t4Frame, { yellow: t4Yellow, white: t4White, lightGreen: t4LightGreen, green: t4Green, red: t4Red, dark: t4Dark, drips: t4Drips, bar: t4Bar, block: t4Block, barDots: t4BarDots, u: lateU, v: lateV }, true);

addChart(hfFrame, [{
    data: hfX.map((x, i) => ({ x: x, y: hfY[i] })),
    showLine: true, tension: .25, clip: false, pointRadius: 0, borderColor: '#c4586e', borderWidth: 1.2
}], axesFor(hfFrame, 100, hfTickValues, hfTickLabels, false), 'Hf', .1, 137, 48);

// legend swatches
legendValues.forEach((label, i) => {
    const sw = document.createElement('div');
    sw.className = 'swatch';
    sw.style.left = swatchLefts[i] + 'px';
    sw.style.background = legendColors[i];
    document.body.appendChild(sw);
    const txt = document.createElement('div');
    txt.className = 'swatchLabel';
    txt.style.left = swatchLabelCentres[i] + 'px';
    txt.textContent = label;
    document.body.appendChild(txt);
});
</script>
</body>
</html>
